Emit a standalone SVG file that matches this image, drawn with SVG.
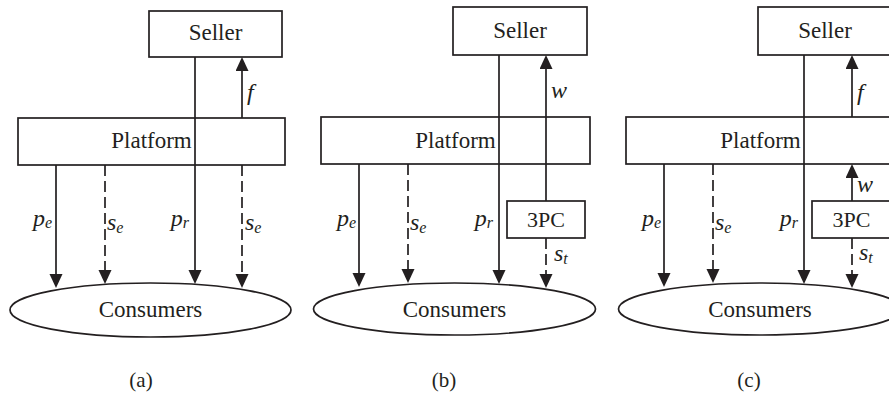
<svg xmlns="http://www.w3.org/2000/svg" width="889" height="397" viewBox="0 0 889 397">
<style>
.box{fill:#fff;stroke:#231f20;stroke-width:1.7}
.ell{fill:#fff;stroke:#231f20;stroke-width:1.7}
text{font-family:'Liberation Serif','Times New Roman','DejaVu Serif',serif;fill:#231f20}
.t{font-size:23px;text-anchor:middle}
.cap{font-size:21px;text-anchor:middle}
.ln{fill:none;stroke:#231f20;stroke-width:1.7}
.ar{marker-end:url(#ah)}
.ds{stroke-dasharray:11 5}
.m{font-style:italic;font-size:24px}
.s{font-size:16px}
.e{text-anchor:end}
</style>
<defs>
<marker id="ah" markerUnits="userSpaceOnUse" markerWidth="16" markerHeight="14" refX="11" refY="6.5" orient="auto">
<path d="M0,0 L14,6.5 L0,13 Z" fill="#231f20"/>
</marker>
</defs>

<!-- Panel (a) nodes -->
<g id="a-seller"><rect class="box" x="149" y="11" width="133" height="46"/><text class="t" x="215.5" y="40" font-family="Liberation Serif, serif">Seller</text></g>
<g id="a-platform"><rect class="box" x="18" y="118" width="267" height="47"/><text class="t" x="151.5" y="148">Platform</text></g>
<g id="a-consumers"><ellipse class="ell" cx="150.5" cy="310" rx="140.5" ry="27"/><text class="t" x="150.5" y="317">Consumers</text></g>

<!-- Panel (b) nodes -->
<g id="b-seller"><rect class="box" x="453" y="7" width="134" height="48"/><text class="t" x="520" y="38">Seller</text></g>
<g id="b-platform"><rect class="box" x="321" y="117" width="269" height="47"/><text class="t" x="455.5" y="147.5">Platform</text></g>
<g id="b-3pc"><rect class="box" x="507" y="201" width="78" height="37"/><text class="t" x="546" y="227" style="font-size:22px">3PC</text></g>
<g id="b-consumers"><ellipse class="ell" cx="454.5" cy="309" rx="141" ry="26"/><text class="t" x="454.5" y="316.5">Consumers</text></g>

<!-- Panel (c) nodes -->
<g id="c-seller"><rect class="box" x="758" y="7" width="134" height="48"/><text class="t" x="825" y="38">Seller</text></g>
<g id="c-platform"><rect class="box" x="626" y="117" width="269" height="47"/><text class="t" x="760.5" y="147.5">Platform</text></g>
<g id="c-3pc"><rect class="box" x="812" y="201" width="78" height="37"/><text class="t" x="851.5" y="227" style="font-size:22px">3PC</text></g>
<g id="c-consumers"><ellipse class="ell" cx="760" cy="309" rx="141.5" ry="26"/><text class="t" x="760" y="316.5">Consumers</text></g>

<!-- Connectors -->
<g id="connectors">
<!-- (a) -->
<line class="ln ar" x1="56" y1="165" x2="56" y2="285"/>
<line class="ln ar ds" x1="105" y1="165" x2="105" y2="281"/>
<line class="ln ar" x1="195" y1="57" x2="195" y2="281"/>
<line class="ln ar ds" x1="242" y1="165" x2="242" y2="285"/>
<line class="ln ar" x1="242" y1="118" x2="242" y2="60"/>
<!-- (b) -->
<line class="ln ar" x1="359" y1="164" x2="359" y2="284"/>
<line class="ln ar ds" x1="408" y1="164" x2="408" y2="280"/>
<line class="ln ar" x1="499" y1="55" x2="499" y2="281"/>
<line class="ln ar" x1="546" y1="201" x2="546" y2="58"/>
<line class="ln ar ds" x1="546" y1="238" x2="546" y2="285"/>
<!-- (c) -->
<line class="ln ar" x1="664" y1="164" x2="664" y2="284"/>
<line class="ln ar ds" x1="713" y1="164" x2="713" y2="280"/>
<line class="ln ar" x1="804" y1="55" x2="804" y2="281"/>
<line class="ln ar" x1="852" y1="117" x2="852" y2="58"/>
<line class="ln ar" x1="852" y1="201" x2="852" y2="167"/>
<line class="ln ar ds" x1="852" y1="238" x2="852" y2="285"/>
</g>

<!-- Connector labels -->
<g id="labels">
<text class="m e" x="52" y="226">p<tspan class="s" dy="2">e</tspan></text>
<text class="m" x="107" y="230">s<tspan class="s" dy="3">e</tspan></text>
<text class="m e" x="189" y="226">p<tspan class="s" dy="2">r</tspan></text>
<text class="m" x="245" y="230">s<tspan class="s" dy="3">e</tspan></text>
<text class="m" x="247" y="100">f</text>

<text class="m e" x="356" y="226">p<tspan class="s" dy="2">e</tspan></text>
<text class="m" x="410" y="230">s<tspan class="s" dy="3">e</tspan></text>
<text class="m e" x="493" y="226">p<tspan class="s" dy="2">r</tspan></text>
<text class="m" x="551" y="98">w</text>
<text class="m" x="554" y="261">s<tspan class="s" dy="3">t</tspan></text>

<text class="m e" x="661" y="226">p<tspan class="s" dy="2">e</tspan></text>
<text class="m" x="715" y="230">s<tspan class="s" dy="3">e</tspan></text>
<text class="m e" x="798" y="226">p<tspan class="s" dy="2">r</tspan></text>
<text class="m" x="857" y="100">f</text>
<text class="m" x="857" y="192">w</text>
<text class="m" x="859" y="260">s<tspan class="s" dy="3">t</tspan></text>
</g>

<!-- Captions -->
<text class="cap" x="141" y="387">(a)</text>
<text class="cap" x="444" y="387">(b)</text>
<text class="cap" x="749" y="387">(c)</text>
</svg>
